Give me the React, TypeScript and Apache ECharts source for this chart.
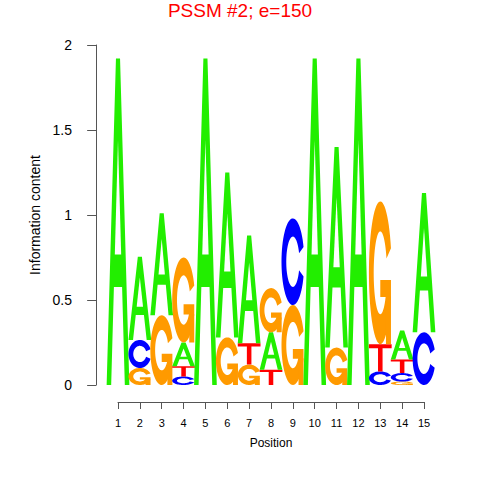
import { useEffect, useRef } from "react";
import * as echarts from "echarts";

const positions = [1, 2, 3, 4, 5, 6, 7, 8, 9, 10, 11, 12, 13, 14, 15];
const letters = ["A", "C", "G", "T"];
const heightsA = [1.92, 0.49, 0.6, 0.14, 1.92, 0.97, 0.635, 0.22, 0, 1.92, 1.18, 1.92, 0, 0.17, 0.82];
const heightsC = [0, 0.165, 0, 0.05, 0, 0, 0, 0, 0.51, 0, 0, 0, 0.08, 0.05, 0.31];
const heightsG = [0, 0.1, 0.41, 0.5, 0, 0.28, 0.12, 0.26, 0.47, 0, 0.22, 0, 0.84, 0.02, 0];
const heightsT = [0, 0, 0, 0.06, 0, 0, 0.125, 0.09, 0, 0, 0, 0, 0.16, 0.08, 0];
const letterColors = ["#22EE00", "#0000FF", "#FF9A00", "#FF0000"];
const titleText = "PSSM #2; e=150";
const yName = "Information content";
const xName = "Position";

type Pt = [number, number];

const GAP = 0.35;
const ringPts = (): Pt[] => {
  const pts: Pt[] = [];
  const n = 60;
  for (let i = 0; i <= n; i++) {
    const a = GAP + ((2 * Math.PI - 2 * GAP) * i) / n;
    pts.push([0.5 + 0.5 * Math.cos(a), 0.5 - 0.5 * Math.sin(a)]);
  }
  for (let i = n; i >= 0; i--) {
    const a = GAP + ((2 * Math.PI - 2 * GAP) * i) / n;
    pts.push([0.5 + 0.29 * Math.cos(a), 0.5 - 0.29 * Math.sin(a)]);
  }
  return pts;
};
const R1 = 0.5 + 0.5 * Math.cos(GAP);
const glyphs: { pts: Pt[]; white?: boolean }[][] = [
  [
    { pts: [[0, 1], [0.41, 0], [0.59, 0], [1, 1], [0.8, 1], [0.68, 0.7], [0.32, 0.7], [0.2, 1]] },
    { pts: [[0.36, 0.6], [0.64, 0.6], [0.5, 0.25]], white: true },
  ],
  [{ pts: ringPts() }],
  [
    { pts: ringPts() },
    { pts: [[R1, 0.55], [0.5, 0.55], [0.5, 0.67], [R1 - 0.22, 0.67], [R1 - 0.22, 1], [R1, 1]] },
  ],
  [{ pts: [[0, 0], [1, 0], [1, 0.15], [0.6, 0.15], [0.6, 1], [0.4, 1], [0.4, 0.15], [0, 0.15]] }],
];

const allHeights = [heightsA, heightsC, heightsG, heightsT];
const logoData: number[][] = [];
positions.forEach((p, i) => {
  const items = letters
    .map((_, li) => ({ li, h: allHeights[li][i] }))
    .filter((d) => d.h > 0)
    .sort((a, b) => a.h - b.h);
  let base = 0;
  items.forEach((d) => {
    logoData.push([p, base, base + d.h, d.li]);
    base += d.h;
  });
});

export default function App() {
  const ref = useRef<HTMLDivElement>(null);
  useEffect(() => {
    if (!ref.current) return;
    const chart = echarts.init(ref.current, null, { renderer: "svg" });
    const font = "Liberation Sans, Arial, Helvetica, sans-serif";
    chart.setOption({
      animation: false,
      backgroundColor: "#ffffff",
      textStyle: { fontFamily: font },
      title: {
        text: titleText,
        left: "center",
        top: 1,
        padding: 0,
        textStyle: { color: "#FF0000", fontSize: 19, fontWeight: "normal", fontFamily: font },
      },
      grid: [
        { left: 90, top: 45, width: 362, height: 340 },
        { left: 118, top: 392, width: 306, height: 10 },
      ],
      xAxis: [
        { gridIndex: 0, type: "value", min: -0.281, max: 16.281, show: false },
        {
          gridIndex: 1,
          type: "value",
          min: 1,
          max: 15,
          interval: 1,
          axisLine: { show: true, lineStyle: { color: "#555", width: 1 } },
          axisTick: { show: true, inside: false, length: 7, lineStyle: { color: "#555" } },
          axisLabel: { color: "#000", fontSize: 11, margin: 15, fontFamily: font },
          splitLine: { show: false },
          name: xName,
          nameLocation: "middle",
          nameGap: 35,
          nameTextStyle: { color: "#000", fontSize: 12, fontFamily: font },
        },
      ],
      yAxis: [
        {
          gridIndex: 0,
          type: "value",
          min: 0,
          max: 2,
          interval: 0.5,
          axisLine: { show: true, lineStyle: { color: "#555", width: 1 } },
          axisTick: { show: true, inside: false, length: 9, lineStyle: { color: "#555" } },
          axisLabel: { color: "#000", fontSize: 14, margin: 18, fontFamily: font },
          splitLine: { show: false },
          name: yName,
          nameLocation: "middle",
          nameGap: 45,
          nameTextStyle: { color: "#000", fontSize: 14, fontFamily: font },
        },
        { gridIndex: 1, type: "value", min: 0, max: 1, show: false },
      ],
      series: [
        {
          type: "custom",
          xAxisIndex: 0,
          yAxisIndex: 0,
          data: logoData,
          renderItem: (_params: any, api: any) => {
            const pos = api.value(0);
            const b = api.value(1);
            const t = api.value(2);
            const li = api.value(3);
            const p0 = api.coord([pos - 0.52, t]);
            const p1 = api.coord([pos + 0.52, b]);
            const x0 = p0[0];
            const y0 = p0[1];
            const w = p1[0] - p0[0];
            const h = p1[1] - p0[1];
            const children = glyphs[li].map((g) => ({
              type: "polygon",
              shape: { points: g.pts.map(([ux, uy]) => [x0 + ux * w, y0 + uy * h]) },
              style: { fill: g.white ? "#ffffff" : letterColors[li], stroke: null },
            }));
            return { type: "group", children };
          },
        },
      ],
    });
    return () => chart.dispose();
  }, []);
  return <div ref={ref} style={{ width: 480, height: 480, position: "absolute", left: 0, top: 0 }} />;
}
